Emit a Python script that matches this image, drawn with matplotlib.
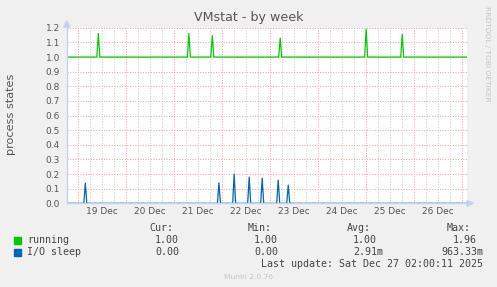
import matplotlib
matplotlib.use("Agg")
import matplotlib.pyplot as plt
from matplotlib.patches import Rectangle, Polygon
from matplotlib.lines import Line2D

# ---- data (hours since 19 Dec 00:00) ----
running_base = 1.0
running_spike_hours = [10.3, 55.5, 67.2, 101.1, 144.0, 162.0]
running_spike_peaks = [1.16, 1.16, 1.147, 1.13, 1.19, 1.154]
iosleep_base = 0.0
iosleep_spike_hours = [3.8, 70.5, 78.1, 85.6, 92.1, 100.1, 105.1]
iosleep_spike_peaks = [0.138, 0.14, 0.20, 0.179, 0.172, 0.159, 0.124]

day_labels = ["19 Dec", "20 Dec", "21 Dec", "22 Dec", "23 Dec", "24 Dec", "25 Dec", "26 Dec"]
y_ticks = [0.0, 0.1, 0.2, 0.3, 0.4, 0.5, 0.6, 0.7, 0.8, 0.9, 1.0, 1.1, 1.2]

series_names = ["running", "I/O sleep"]
series_colors = ["#00CC00", "#0066B3"]
cur_vals = [1.00, 0.00]
min_vals = [1.00, 0.00]
avg_vals = [1.00, 0.00291]
max_vals = [1.96, 0.96333]
last_update = "Last update: Sat Dec 27 02:00:11 2025"

T_START, T_END = -5.5, 194.1
HALF_W = 0.75

W, H = 497, 287
fig = plt.figure(figsize=(W / 100, H / 100), dpi=100, facecolor="#F0F0F0")


def fx(x):
    return x / W


def fy(y):
    return 1 - y / H


L, R, T, B = 66.7, 466.5, 27.8, 203.3
ax = fig.add_axes([fx(L), fy(B), fx(R) - fx(L), fy(T) - fy(B)])
ax.set_facecolor("white")
ax.set_xlim(T_START, T_END)
ax.set_ylim(0, 1.2)


def spike_series(base, hours, peaks):
    xs, ys = [T_START], [base]
    for h, p in sorted(zip(hours, peaks)):
        xs += [h - HALF_W, h, h + HALF_W]
        ys += [base, p, base]
    xs.append(T_END)
    ys.append(base)
    return xs, ys


# grid
six_hours = list(range(-0, 200, 6))
midnights = [24 * i for i in range(len(day_labels) + 1)]
for h in six_hours:
    if h % 24 != 0:
        ax.axvline(h, color="#cfcfcf", lw=0.75, ls=(0, (1, 1.5)), zorder=1)
for h in midnights:
    ax.axvline(h, color="#e8a8a8", lw=0.75, ls=(0, (1, 1.5)), zorder=1)
for v in y_ticks:
    ax.axhline(v, color="#e8a8a8", lw=0.75, ls=(0, (1, 1.5)), zorder=1)

xr, yr = spike_series(running_base, running_spike_hours, running_spike_peaks)
xi, yi = spike_series(iosleep_base, iosleep_spike_hours, iosleep_spike_peaks)
ax.plot(xr, yr, color=series_colors[0], lw=0.9, zorder=3)
ax.plot(xi, yi, color=series_colors[1], lw=0.9, zorder=3)

for s in ax.spines.values():
    s.set_visible(False)

ax.set_yticks(y_ticks)
ax.set_yticklabels([f"{v:.1f}" for v in y_ticks])
ax.set_xticks([24 * i + 12 for i in range(len(day_labels))])
ax.set_xticklabels(day_labels)
ax.tick_params(axis="both", length=0, labelsize=6.5, labelcolor="#555555")
ax.tick_params(axis="y", pad=4.8)
ax.tick_params(axis="x", pad=3.0)

# axes with arrows (pixel coords)
axis_col = "#C8D0F4"
fig.add_artist(Line2D([fx(L), fx(L)], [fy(B), fy(23)], color=axis_col, lw=1.0))
fig.add_artist(Line2D([fx(L), fx(471)], [fy(B), fy(B)], color=axis_col, lw=1.0))
fig.add_artist(Polygon([[fx(L - 3), fy(27)], [fx(L + 3), fy(27)], [fx(L), fy(21)]],
                       closed=True, color=axis_col, transform=fig.transFigure))
fig.add_artist(Polygon([[fx(467), fy(B - 3)], [fx(467), fy(B + 3)], [fx(473.5), fy(B)]],
                       closed=True, color=axis_col, transform=fig.transFigure))

# title, labels
fig.text(fx(248.5), fy(18), "VMstat - by week", ha="center", va="center",
         fontsize=9.1, color="#555555")
fig.text(fx(11.5), fy(114), "process states", ha="center", va="center",
         rotation=90, fontsize=8.1, color="#555555")
fig.text(fx(487.5), fy(54), "RRDTOOL / TOBI OETIKER", ha="center", va="center",
         rotation=270, fontsize=5.4, color="#C4C4C4")

# legend
mono = "DejaVu Sans Mono"
fs = 7.2
tc = "#444444"
col_ends = [185, 284, 383, 483]
headers = ["Cur:", "Min:", "Avg:", "Max:"]
cw = 6.0
for hdr, ce in zip(headers, col_ends):
    fig.text(fx(ce - 2 * cw), fy(228), hdr, ha="right", va="center",
             family=mono, fontsize=fs, color=tc)


def fmt(v):
    if v == 0 or abs(v) >= 1:
        return f"{v:.2f}", False
    return f"{v * 1000:.2f}m", True


rows_y = [240, 252]
for i, name in enumerate(series_names):
    y = rows_y[i]
    fig.add_artist(Rectangle((fx(14), fy(y + 3.5)), fx(6.5), fy(0) - fy(6.5),
                             color=series_colors[i], transform=fig.transFigure))
    fig.text(fx(27), fy(y), name, ha="left", va="center",
             family=mono, fontsize=fs, color=tc)
    for vals, ce in zip([cur_vals, min_vals, avg_vals, max_vals], col_ends):
        s, suf = fmt(vals[i])
        fig.text(fx(ce if suf else ce - cw), fy(y), s, ha="right", va="center",
                 family=mono, fontsize=fs, color=tc)

fig.text(fx(483), fy(264), last_update, ha="right", va="center",
         family=mono, fontsize=fs, color=tc)
fig.text(fx(248.5), fy(277), "Munin 2.0.76", ha="center", va="center",
         fontsize=5.4, color="#C4C4C4")

fig.savefig("out.png", dpi=100, facecolor=fig.get_facecolor())
